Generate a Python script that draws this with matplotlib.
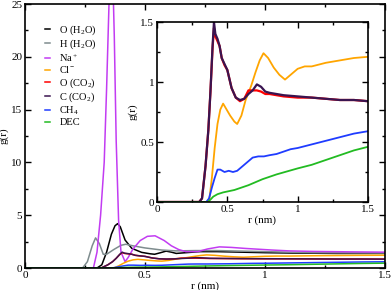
import numpy as np
import matplotlib.pyplot as plt

plt.rcParams["font.family"] = ["Liberation Serif", "DejaVu Serif"]
plt.rcParams["mathtext.fontset"] = "custom"
plt.rcParams["mathtext.rm"] = "Liberation Serif"
plt.rcParams["mathtext.it"] = "Liberation Serif:italic"

# ---- data (r in nm, g(r)) ----
r_ow = [0, 0.30, 0.32, 0.34, 0.36, 0.375, 0.386, 0.397, 0.417, 0.445, 0.486, 0.52,
        0.54, 0.565, 0.588, 0.61, 0.63, 0.67, 0.73, 0.8, 0.9, 1.0, 1.1, 1.2, 1.3, 1.4, 1.5]
g_ow = [0, 0, 0.3, 1.5, 3.2, 4.0, 4.2, 3.9, 2.65, 1.86, 1.48, 1.35,
        1.3, 1.45, 1.6, 1.5, 1.38, 1.45, 1.55, 1.55, 1.5, 1.45, 1.42, 1.4, 1.38, 1.38, 1.38]

r_hw = [0, 0.24, 0.26, 0.28, 0.294, 0.31, 0.326, 0.34, 0.37, 0.40, 0.42, 0.45,
        0.5, 0.57, 0.63, 0.71, 0.8, 0.9, 1.0, 1.2, 1.5]
g_hw = [0, 0, 0.6, 2.1, 2.85, 2.3, 1.3, 1.3, 1.75, 2.15, 2.25, 2.1,
        1.9, 1.7, 1.62, 1.65, 1.65, 1.6, 1.55, 1.45, 1.42]

r_na = [0, 0.285, 0.30, 0.315, 0.33, 0.34, 0.35, 0.362, 0.372, 0.38, 0.39, 0.40, 0.417,
        0.43, 0.45, 0.48, 0.51, 0.542, 0.58, 0.61, 0.64, 0.67, 0.72, 0.76, 0.81, 0.86,
        0.92, 1.03, 1.1, 1.2, 1.35, 1.5]
g_na = [0, 0, 1.5, 5, 10, 17, 25, 31, 22, 12, 4.5, 1.5, 0.6,
        1.0, 1.8, 2.6, 3.0, 3.05, 2.6, 2.1, 1.75, 1.55, 1.55, 1.8, 2.0, 1.95,
        1.85, 1.7, 1.62, 1.57, 1.53, 1.5]

r_cl = [0, 0.37, 0.39, 0.41, 0.43, 0.45, 0.47, 0.49, 0.52, 0.55, 0.57, 0.60, 0.63,
        0.67, 0.70, 0.73, 0.757, 0.79, 0.83, 0.87, 0.91, 0.95, 1.0, 1.05, 1.1, 1.2,
        1.3, 1.4, 1.5]
g_cl = [0, 0, 0.2, 0.45, 0.65, 0.77, 0.82, 0.78, 0.72, 0.67, 0.65, 0.72, 0.85,
        0.97, 1.08, 1.18, 1.24, 1.2, 1.12, 1.06, 1.02, 1.06, 1.11, 1.13, 1.13, 1.16,
        1.18, 1.2, 1.21]

r_co2 = [0, 0.30, 0.32, 0.345, 0.365, 0.38, 0.395, 0.405, 0.415, 0.43, 0.445, 0.46,
         0.48, 0.50, 0.53, 0.56, 0.59, 0.62, 0.65, 0.68, 0.71, 0.74, 0.77, 0.8, 0.85,
         0.9, 1.0, 1.1, 1.2, 1.3, 1.4, 1.5]
g_oco2 = [0, 0, 0.03, 0.3, 0.6, 0.92, 1.28, 1.45, 1.38, 1.34, 1.3, 1.2,
          1.14, 1.1, 0.95, 0.87, 0.84, 0.86, 0.93, 0.93, 0.93, 0.92, 0.9, 0.9, 0.89,
          0.88, 0.87, 0.87, 0.86, 0.85, 0.85, 0.84]
g_cco2 = [0, 0, 0.03, 0.3, 0.6, 0.92, 1.3, 1.5, 1.4, 1.36, 1.3, 1.2,
          1.15, 1.1, 0.95, 0.87, 0.85, 0.86, 0.9, 0.93, 0.98, 0.96, 0.92, 0.91, 0.9,
          0.89, 0.88, 0.87, 0.86, 0.85, 0.85, 0.84]

r_ch4 = [0, 0.35, 0.37, 0.39, 0.41, 0.43, 0.45, 0.48, 0.51, 0.54, 0.57, 0.60, 0.64,
         0.68, 0.72, 0.76, 0.8, 0.85, 0.9, 0.95, 1.0, 1.1, 1.2, 1.3, 1.4, 1.5]
g_ch4 = [0, 0, 0.03, 0.12, 0.2, 0.27, 0.27, 0.25, 0.26, 0.25, 0.26, 0.29, 0.33,
         0.37, 0.38, 0.38, 0.39, 0.4, 0.42, 0.44, 0.45, 0.48, 0.51, 0.54, 0.57, 0.59]

r_dec = [0, 0.36, 0.38, 0.40, 0.43, 0.47, 0.55, 0.65, 0.75, 0.85, 1.0, 1.1, 1.2,
         1.3, 1.4, 1.5]
g_dec = [0, 0, 0.02, 0.045, 0.065, 0.08, 0.1, 0.14, 0.19, 0.23, 0.28, 0.31, 0.35,
         0.39, 0.43, 0.46]

labels = ["O (H$_2$O)", "H (H$_2$O)", "Na$^+$", "Cl$^-$", "O (CO$_2$)",
          "C (CO$_2$)", "CH$_4$", "DEC"]
colors = ["#000000", "#7e8c8e", "#c23cf2", "#ffa500", "#ff0000",
          "#3a1450", "#1f3cff", "#22bb22"]

series = [(r_ow, g_ow), (r_hw, g_hw), (r_na, g_na), (r_cl, g_cl),
          (r_co2, g_oco2), (r_co2, g_cco2), (r_ch4, g_ch4), (r_dec, g_dec)]


def style_axes(ax, ymaj, ymin):
    ax.set_xlim(0, 1.5)
    ax.set_xticks([0, 0.5, 1, 1.5])
    ax.set_xticklabels(["0", "0.5", "1", "1.5"])
    ax.set_xticks(np.arange(0, 1.51, 0.25), minor=True)
    ax.set_yticks(ymaj)
    ax.set_yticks(ymin, minor=True)
    ax.tick_params(which="both", direction="in", top=True, right=True,
                   labelsize=8, width=1, pad=2)
    ax.tick_params(which="major", length=4)
    ax.tick_params(which="minor", length=2)
    for s in ax.spines.values():
        s.set_linewidth(1.2)


fig = plt.figure(figsize=(3.92, 2.90), dpi=100)

ax = fig.add_axes([25 / 392, 22 / 290, 360 / 392, 264 / 290])
for (r, g), c, lab in zip(series, colors, labels):
    ax.plot(r, g, color=c, lw=1.1, label=lab)
ax.set_ylim(0, 25)
style_axes(ax, [0, 5, 10, 15, 20, 25], np.arange(0, 25.1, 2.5))
ax.set_yticklabels(["0", "5", "10", "15", "20", "25"])
ax.set_xlabel("r (nm)", fontsize=8, labelpad=1)
ax.set_ylabel("g(r)", fontsize=8, labelpad=2)
ax.legend(loc="upper left", bbox_to_anchor=(0.035, 0.955), frameon=False,
          fontsize=7.5, handlelength=0.5, handletextpad=0.9, labelspacing=0.08,
          borderpad=0.2)

ins = fig.add_axes([157 / 392, 88 / 290, 211 / 392, 180 / 290])
for i in [3, 4, 5, 6, 7]:
    r, g = series[i]
    ins.plot(r, g, color=colors[i], lw=1.6 if i in (4, 5) else 1.3)
ins.set_ylim(0, 1.5)
style_axes(ins, [0, 0.5, 1, 1.5], np.arange(0, 1.51, 0.25))
ins.set_yticklabels(["0", "0.5", "1", "1.5"])
ins.set_xlabel("r (nm)", fontsize=8, labelpad=1)
ins.set_ylabel("g(r)", fontsize=8, labelpad=2)

fig.savefig("out.png", dpi=100)
